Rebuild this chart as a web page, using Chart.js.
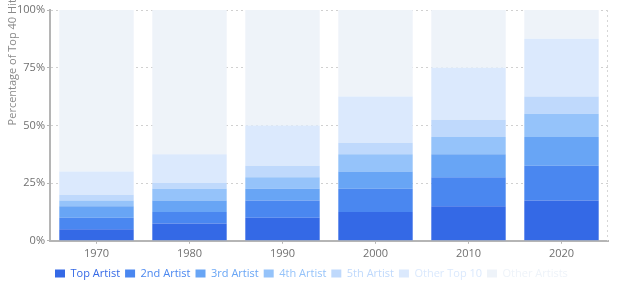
<!DOCTYPE html>
<html>
<head>
<meta charset="utf-8">
<script src="https://cdn.jsdelivr.net/npm/chart.js@4"></script>
<style>
  html, body { margin: 0; padding: 0; background: #fff; }
  #wrap { width: 621px; height: 291px; }
</style>
</head>
<body>
<div id="wrap"><canvas id="chart" width="621" height="291"></canvas></div>
<script>
// ─── Data ─────────────────────────────────────────────────────────────────────

const decades = ["1970", "1980", "1990", "2000", "2010", "2020"];
const topArtist    = [5, 7.5, 10, 12.5, 15, 17.5];
const secondArtist = [5, 5, 7.5, 10, 12.5, 15];
const thirdArtist  = [5, 5, 5, 7.5, 10, 12.5];
const fourthArtist = [2.5, 5, 5, 7.5, 7.5, 10];
const fifthArtist  = [2.5, 2.5, 5, 5, 7.5, 7.5];
const otherTop10   = [10, 12.5, 17.5, 20, 22.5, 25];
const otherArtists = [70, 62.5, 50, 37.5, 25, 12.5];
const yTicks = [0, 25, 50, 75, 100];
const yTitle = "Percentage of Top 40 Hits";

const FONT = "'Open Sans', 'Noto Sans', sans-serif";

const series = [
  { label: "Top Artist",    data: topArtist,    color: "#3469e6" },
  { label: "2nd Artist",    data: secondArtist, color: "#4a87f0" },
  { label: "3rd Artist",    data: thirdArtist,  color: "#68a5f5" },
  { label: "4th Artist",    data: fourthArtist, color: "#95c3fa" },
  { label: "5th Artist",    data: fifthArtist,  color: "#bfd9fc" },
  { label: "Other Top 10",  data: otherTop10,   color: "#dbe9fd" },
  { label: "Other Artists", data: otherArtists, color: "#eef3f9" },
];

// y title drawn by hand: it starts at the middle and runs off the top
const yTitlePlugin = {
  id: "yTitle",
  afterDraw(chart) {
    const { ctx, chartArea } = chart;
    ctx.save();
    ctx.translate(13, (chartArea.top + chartArea.bottom) / 2);
    ctx.rotate(-Math.PI / 2);
    ctx.font = `11px ${FONT}`;
    ctx.fillStyle = "#8a8a8a";
    ctx.textAlign = "left";
    ctx.textBaseline = "middle";
    ctx.fillText(yTitle, 0, 0);
    ctx.restore();
  },
};

// dotted right edge of the plot
const rightEdgePlugin = {
  id: "rightEdge",
  beforeDatasetsDraw(chart) {
    const { ctx, chartArea } = chart;
    ctx.save();
    ctx.strokeStyle = "#d6d6d6";
    ctx.setLineDash([2, 3]);
    ctx.beginPath();
    ctx.moveTo(chartArea.right - 0.5, chartArea.top);
    ctx.lineTo(chartArea.right - 0.5, chartArea.bottom);
    ctx.stroke();
    ctx.restore();
  },
};

new Chart(document.getElementById("chart"), {
  type: "bar",
  data: {
    labels: decades,
    datasets: series.map(s => ({
      label: s.label,
      data: s.data,
      backgroundColor: s.color,
      borderWidth: 0,
      barPercentage: 0.8,
      categoryPercentage: 1,
    })),
  },
  options: {
    responsive: false,
    animation: false,
    layout: { padding: { top: 10, right: 13, left: 0, bottom: 2 } },
    plugins: {
      tooltip: { enabled: false },
      legend: {
        position: "bottom",
        align: "start",
        fullSize: false,
        labels: {
          boxWidth: 10,
          boxHeight: 8,
          padding: 5,
          font: { family: FONT, size: 11 },
          generateLabels(chart) {
            const items = Chart.defaults.plugins.legend.labels.generateLabels(chart);
            items.forEach(it => { it.fontColor = it.fillStyle; it.lineWidth = 0; });
            return items;
          },
        },
      },
    },
    scales: {
      x: {
        stacked: true,
        grid: {
          offset: false,
          drawOnChartArea: false,
          tickLength: 3,
          tickColor: "#b5b5b5",
        },
        border: { color: "#b5b5b5", width: 2 },
        ticks: { color: "#707070", font: { family: FONT, size: 11 }, padding: 3 },
      },
      y: {
        stacked: true,
        min: 0,
        max: 100,
        afterFit(scale) { scale.width = 50; },
        afterBuildTicks(scale) { scale.ticks = yTicks.map(v => ({ value: v })); },
        grid: {
          color: "#d0d0d0",
          tickLength: 3,
          tickColor: "#b5b5b5",
          tickBorderDash: [],
        },
        border: { color: "#b5b5b5", width: 2, dash: [2, 3] },
        ticks: {
          color: "#707070",
          font: { family: FONT, size: 11 },
          padding: 2,
          callback: v => v + "%",
        },
      },
    },
  },
  plugins: [yTitlePlugin, rightEdgePlugin],
});
</script>
</body>
</html>
